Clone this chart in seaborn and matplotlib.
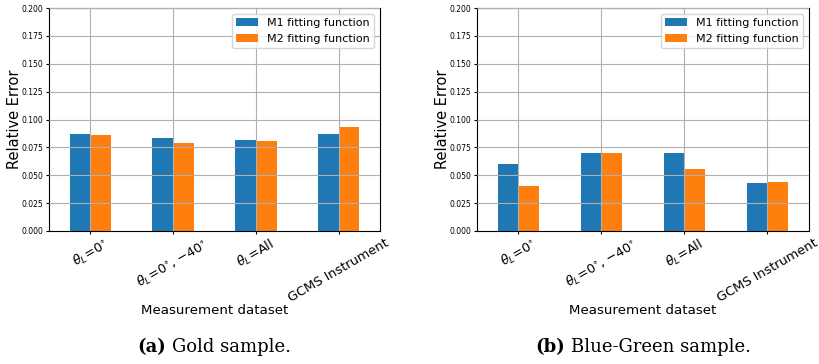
import numpy as np
import pandas as pd
import seaborn as sns
import matplotlib.pyplot as plt

# data
datasets = [r"$\theta_L$=0$^{\circ}$", r"$\theta_L$=0$^{\circ}$, $-40^{\circ}$",
            r"$\theta_L$=All", "GCMS Instrument"]
series = ["M1 fitting function", "M2 fitting function"]
gold_m1 = [0.0868, 0.0832, 0.0814, 0.0868]
gold_m2 = [0.0859, 0.0787, 0.0805, 0.0931]
bg_m1 = [0.0599, 0.0698, 0.0698, 0.0428]
bg_m2 = [0.0401, 0.0698, 0.0554, 0.0437]
yticks = [0.000, 0.025, 0.050, 0.075, 0.100, 0.125, 0.150, 0.175, 0.200]
captions = [("(a)", "Gold sample."), ("(b)", "Blue-Green sample.")]
colors = ["#1f77b4", "#ff7f0e"]


def make_df(m1, m2):
    return pd.DataFrame({
        "dataset": datasets * 2,
        "model": [series[0]] * 4 + [series[1]] * 4,
        "err": m1 + m2,
    })


fig = plt.figure(figsize=(8.2, 3.64), dpi=100)
positions = [[49 / 820, 133 / 364, 331 / 820, 223 / 364],
             [477 / 820, 133 / 364, 332 / 820, 223 / 364]]
frames = [make_df(gold_m1, gold_m2), make_df(bg_m1, bg_m2)]

cap_texts = []
for pos, df, cap in zip(positions, frames, captions):
    ax = fig.add_axes(pos)
    sns.barplot(data=df, x="dataset", y="err", hue="model", order=datasets,
                hue_order=series, palette=colors, width=0.5, gap=0,
                saturation=1, errorbar=None, ax=ax)
    ax.set_xlim(-0.5, 3.5)
    ax.set_ylim(0, 0.2)
    ax.set_yticks(yticks)
    ax.set_yticklabels([f"{t:.3f}" for t in yticks], fontsize=5.5)
    ax.tick_params(axis="y", length=2.5, pad=1.5)
    ax.tick_params(axis="x", length=2.5, pad=1.5)
    ax.set_xticks(range(4))
    ax.set_xticklabels(datasets, rotation=30, fontsize=9.3)
    ax.set_ylabel("Relative Error", fontsize=10.5)
    ax.set_xlabel("Measurement dataset", fontsize=9.6)
    ax.yaxis.set_label_coords(-27 / (pos[2] * 820), 0.5)
    ax.xaxis.set_label_coords(0.5, -73 / 223)
    ax.grid(True, color="#b0b0b0", linewidth=0.8)
    ax.set_axisbelow(False)
    for p in ax.patches:
        p.set_zorder(0.5)
    ax.legend(loc="upper right", fontsize=8)
    cx = pos[0] + pos[2] / 2
    ta = fig.text(cx, 17 / 364, cap[0], ha="left", va="center", fontsize=13,
                  family="DejaVu Serif", weight="bold")
    tb = fig.text(cx, 17 / 364, cap[1], ha="left", va="center", fontsize=13,
                  family="DejaVu Serif")
    cap_texts.append((cx, ta, tb))

# centre each caption: bold label followed by plain text
fig.canvas.draw()
r = fig.canvas.get_renderer()
for cx, ta, tb in cap_texts:
    wa = ta.get_window_extent(r).width / 820
    wb = tb.get_window_extent(r).width / 820
    gap = 6 / 820
    x0 = cx - (wa + gap + wb) / 2
    ta.set_x(x0)
    tb.set_x(x0 + wa + gap)

fig.savefig("out.png", dpi=100)
